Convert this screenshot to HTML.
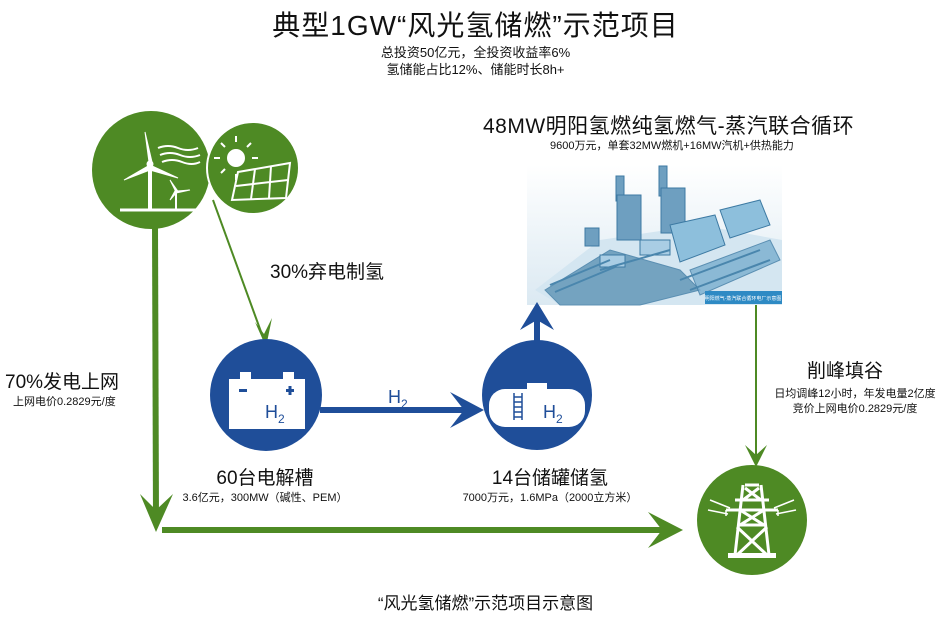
<!DOCTYPE html>
<html><head><meta charset="utf-8"><style>
html,body{margin:0;padding:0;background:#fff;}
body{width:951px;height:617px;position:relative;overflow:hidden;font-family:"Liberation Sans","Noto Sans CJK SC",sans-serif;color:#111;}
.t{position:absolute;white-space:nowrap;text-align:center;}
</style></head><body>
<svg width="951" height="617" style="position:absolute;left:0;top:0">
<defs>
<linearGradient id="ig" x1="0" y1="0" x2="0" y2="1"><stop offset="0" stop-color="#fff"/><stop offset="1" stop-color="#dbe9f2"/></linearGradient>
</defs>
<!-- plant image -->
<rect x="527" y="165" width="255" height="140" fill="url(#ig)"/>
<polygon points="535,290 600,240 700,225 782,240 782,290 700,305 560,305" fill="#d4e6f1"/>
<g fill="#6e9fc0" stroke="#3d7aa3" stroke-width="1">
<rect x="616" y="176" width="8" height="25"/><rect x="617" y="195" width="24" height="45"/>
<rect x="659" y="166" width="8" height="30"/><rect x="661" y="188" width="24" height="45"/>
<rect x="585" y="228" width="14" height="18"/>
<polygon points="670,225 715,215 725,245 680,262" fill="#8dbfdc"/>
<polygon points="720,210 760,200 770,225 730,238" fill="#8dbfdc"/>
<polygon points="545,290 610,250 680,270 700,290 640,305 560,305" fill="#5d93b5" opacity="0.8"/>
<polygon points="690,270 770,240 780,260 700,295" fill="#7aaecf" opacity="0.8"/>
<rect x="640" y="240" width="30" height="15" fill="#a9cde4"/>
<rect x="600" y="255" width="25" height="12" fill="#a9cde4"/>
</g>
<g stroke="#4a86ad" stroke-width="2" fill="none">
<path d="M550,285 l60,-25 M555,292 l60,-25 M600,270 l70,-20 M680,280 l80,-30 M690,290 l80,-30"/>
</g>
<rect x="705" y="291" width="77" height="13" fill="#2e8ac4"/>
<text x="743" y="300" font-size="5" fill="#fff" text-anchor="middle" font-family="Noto Sans CJK SC">明阳燃气-蒸汽联合循环电厂示意图</text>

<!-- green arrows -->
<line x1="155" y1="225" x2="156" y2="522" stroke="#4e8a24" stroke-width="6"/>
<polygon points="156,532 140,494 156,510 173,494" fill="#4e8a24"/>
<line x1="162" y1="530" x2="668" y2="530" stroke="#4e8a24" stroke-width="6"/>
<polygon points="683,530 648,512 662,530 648,548" fill="#4e8a24"/>
<line x1="213" y1="200" x2="264" y2="340" stroke="#4e8a24" stroke-width="2"/>
<polygon points="266,347 255,322 264,334 272,318" fill="#4e8a24"/>
<line x1="756" y1="305" x2="756" y2="458" stroke="#4e8a24" stroke-width="2"/>
<polygon points="756,467 745,445 756,455 767,445" fill="#4e8a24"/>

<!-- blue arrows -->
<line x1="320" y1="410" x2="470" y2="410" stroke="#1f4e99" stroke-width="6"/>
<polygon points="484,410 450,392 464,410 450,428" fill="#1f4e99"/>
<line x1="537" y1="355" x2="537" y2="320" stroke="#1f4e99" stroke-width="6"/>
<polygon points="537,302 520,330 537,320 554,330" fill="#1f4e99"/>

<!-- circles -->
<circle cx="151" cy="170" r="59" fill="#4e8a24"/>
<circle cx="253" cy="168" r="46" fill="#4e8a24" stroke="#fff" stroke-width="2"/>
<circle cx="266" cy="395" r="56" fill="#1f4e99"/>
<circle cx="537" cy="395" r="55" fill="#1f4e99"/>
<circle cx="752" cy="520" r="55" fill="#4e8a24"/>

<!-- wind icon -->
<g stroke="#fff" fill="#fff">
<line x1="150" y1="165" x2="150" y2="210" stroke-width="4"/>
<polygon points="149,162 145,132 152,162"/>
<polygon points="152,166 178,178 150,170"/>
<polygon points="148,166 124,180 150,170"/>
<circle cx="150" cy="164" r="3"/>
<line x1="176" y1="190" x2="176" y2="210" stroke-width="2"/>
<polygon points="175,190 170,180 177,190"/><polygon points="177,191 190,190 176,193"/><polygon points="175,191 170,200 177,192"/>
<line x1="120" y1="210" x2="198" y2="210" stroke-width="3"/>
<path d="M158,148 q10,-4 20,0 t20,0 M160,155 q10,-4 20,0 t20,0 M162,162 q10,-4 20,0 t18,0" fill="none" stroke-width="2"/>
</g>
<!-- sun + panel -->
<g stroke="#fff" fill="none" stroke-width="2">
<circle cx="236" cy="158" r="8" fill="#fff"/>
<path d="M236,142v-6M236,174v6M220,158h-6M252,158h6M225,147l-4,-4M247,147l4,-4M225,169l-4,4"/>
<polygon points="238,172 290,163 286,198 232,200" fill="#4e8a24"/>
<path d="M255,169l-4,30M271,166l-2,32M236,186l52,-6"/>
</g>
<!-- battery -->
<g fill="#fff">
<rect x="240" y="372" width="11" height="8"/><rect x="283" y="372" width="11" height="8"/>
<rect x="229" y="379" width="76" height="50"/>
</g>
<rect x="239" y="389" width="8" height="3" fill="#1f4e99"/>
<rect x="286" y="389" width="8" height="3" fill="#1f4e99"/><rect x="288.5" y="386" width="3" height="9" fill="#1f4e99"/>
<text x="265" y="418" font-size="18" fill="#1f4e99" font-family="Liberation Sans">H<tspan font-size="12" dy="5">2</tspan></text>
<!-- tank -->
<rect x="527" y="383" width="20" height="6" fill="#fff"/>
<rect x="489" y="389" width="96" height="38" rx="16" fill="#fff"/>
<g stroke="#1f4e99" stroke-width="1.5"><line x1="514" y1="393" x2="514" y2="420"/><line x1="522" y1="393" x2="522" y2="420"/>
<path d="M514,397h8M514,402h8M514,407h8M514,412h8M514,417h8"/></g>
<text x="543" y="418" font-size="18" fill="#1f4e99" font-family="Liberation Sans">H<tspan font-size="12" dy="5">2</tspan></text>
<text x="388" y="403" font-size="18" fill="#1f4e99" font-family="Liberation Sans">H<tspan font-size="12" dy="5">2</tspan></text>
<!-- tower -->
<g stroke="#fff" fill="none" stroke-width="3">
<path d="M745,485h14M743,485l-8,70M761,485l8,70M735,500h34M726,510h52M738,525h28M733,555h38"/>
<path d="M745,488l16,12M759,488l-16,12M740,510l24,15M764,510l-24,15M737,527l30,28M767,527l-30,28"/>
<path d="M726,510v6M778,510v6M710,500l20,8M708,510l20,4M794,500l-20,8M796,510l-20,4" stroke-width="1.5"/>
</g>
<rect x="728" y="553" width="48" height="5" fill="#fff"/>
</svg>

<div class="t" style="left:0;width:951px;top:4px;font-size:28px;letter-spacing:1px;">典型1GW“风光氢储燃”示范项目</div>
<div class="t" style="left:0;width:951px;top:42px;font-size:13px;">总投资50亿元，全投资收益率6%</div>
<div class="t" style="left:0;width:951px;top:59px;font-size:13px;">氢储能占比12%、储能时长8h+</div>
<div class="t" style="left:483px;width:390px;top:110px;font-size:21px;text-align:left;letter-spacing:0.5px;">48MW明阳氢燃纯氢燃气-蒸汽联合循环</div>
<div class="t" style="left:537px;width:270px;top:137px;font-size:11px;">9600万元，单套32MW燃机+16MW汽机+供热能力</div>
<div class="t" style="left:270px;top:257px;font-size:19px;">30%弃电制氢</div>
<div class="t" style="left:5px;top:367px;font-size:19px;">70%发电上网</div>
<div class="t" style="left:13px;top:393px;font-size:11px;">上网电价0.2829元/度</div>
<div class="t" style="left:160px;width:210px;top:463px;font-size:19px;">60台电解槽</div>
<div class="t" style="left:160px;width:210px;top:489px;font-size:11px;">3.6亿元，300MW（碱性、PEM）</div>
<div class="t" style="left:450px;width:200px;top:463px;font-size:19px;">14台储罐储氢</div>
<div class="t" style="left:440px;width:220px;top:489px;font-size:11px;">7000万元，1.6MPa（2000立方米）</div>
<div class="t" style="left:800px;width:90px;top:356px;font-size:19px;">削峰填谷</div>
<div class="t" style="left:760px;width:190px;top:385px;font-size:11px;">日均调峰12小时，年发电量2亿度</div>
<div class="t" style="left:760px;width:190px;top:400px;font-size:11px;">竞价上网电价0.2829元/度</div>
<div class="t" style="left:0;width:951px;top:589px;font-size:17px;padding-left:20px;box-sizing:border-box;">“风光氢储燃”示范项目示意图</div>
</body></html>
